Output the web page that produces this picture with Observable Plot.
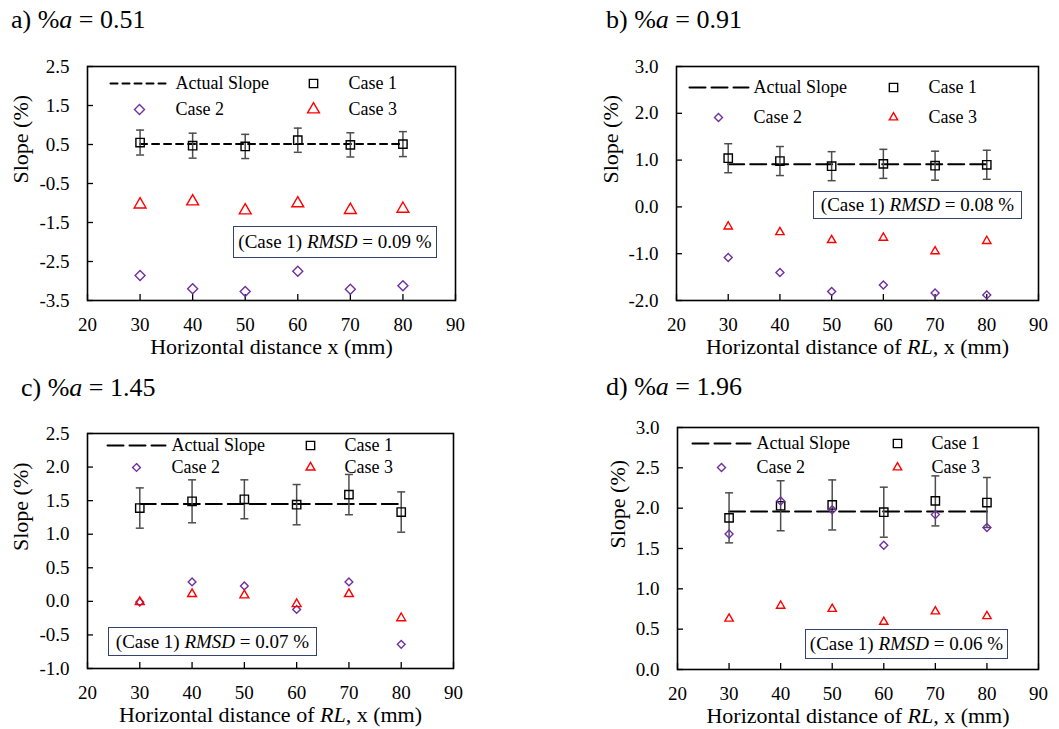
<!DOCTYPE html>
<html><head><meta charset="utf-8">
<script src="https://cdn.jsdelivr.net/npm/d3@7"></script>
<script src="https://cdn.jsdelivr.net/npm/@observablehq/plot@0.6"></script>
<style>
body{margin:0;background:#fff;}
#root{position:relative;width:1059px;height:729px;overflow:hidden;font-family:"Liberation Serif","Times New Roman",serif;background:#fff;}
.title{position:absolute;font-size:26px;line-height:26px;white-space:nowrap;color:#000;}
.panel{position:absolute;}
.rmsd{position:absolute;box-sizing:border-box;border:1.5px solid #34426f;background:#fff;font-size:19px;display:flex;align-items:center;justify-content:center;white-space:pre;color:#000;}
</style></head><body><div id="root"></div>
<script>
// ---------- data ----------
const xValues = [30, 40, 50, 60, 70, 80];
const xTicks = [20, 30, 40, 50, 60, 70, 80, 90];
const panelLetters = ["a", "b", "c", "d"];
const actualSlopes = [0.51, 0.91, 1.45, 1.96];
const rmsdValues = ["0.09", "0.08", "0.07", "0.06"];
const xLabels = ["Horizontal distance x (mm)", "Horizontal distance of RL, x (mm)", "Horizontal distance of RL, x (mm)", "Horizontal distance of RL, x (mm)"];
const yLabel = "Slope (%)";
const legendLabels = ["Actual Slope", "Case 1", "Case 2", "Case 3"];

const yTicksA = [-3.5, -2.5, -1.5, -0.5, 0.5, 1.5, 2.5];
const yTicksB = [-2, -1, 0, 1, 2, 3];
const yTicksC = [-1, -0.5, 0, 0.5, 1, 1.5, 2, 2.5];
const yTicksD = [0, 0.5, 1, 1.5, 2, 2.5, 3];

const case1A = [0.55, 0.47, 0.45, 0.61, 0.49, 0.51];
const errA   = [0.32, 0.32, 0.31, 0.31, 0.31, 0.32];
const case2A = [-2.86, -3.20, -3.27, -2.75, -3.21, -3.12];
const case3A = [-1.04, -0.96, -1.19, -1.01, -1.18, -1.15];

const case1B = [1.04, 0.98, 0.87, 0.92, 0.88, 0.90];
const errB   = [0.31, 0.31, 0.31, 0.31, 0.31, 0.31];
const case2B = [-1.08, -1.40, -1.81, -1.67, -1.84, -1.88];
const case3B = [-0.42, -0.54, -0.71, -0.66, -0.95, -0.73];

const case1C = [1.39, 1.49, 1.52, 1.44, 1.59, 1.33];
const errC   = [0.30, 0.32, 0.29, 0.30, 0.30, 0.30];
const case2C = [-0.01, 0.29, 0.23, -0.12, 0.29, -0.64];
const case3C = [-0.01, 0.11, 0.09, -0.04, 0.11, -0.25];

const case1D = [1.88, 2.03, 2.04, 1.95, 2.09, 2.07];
const errD   = [0.31, 0.31, 0.31, 0.31, 0.31, 0.31];
const case2D = [1.68, 2.09, 1.98, 1.54, 1.92, 1.76];
const case3D = [0.63, 0.79, 0.75, 0.59, 0.72, 0.66];

const panelData = [
  {yTicks: yTicksA, case1: case1A, err: errA, case2: case2A, case3: case3A},
  {yTicks: yTicksB, case1: case1B, err: errB, case2: case2B, case3: case3B},
  {yTicks: yTicksC, case1: case1C, err: errC, case2: case2C, case3: case3C},
  {yTicks: yTicksD, case1: case1D, err: errD, case2: case2D, case3: case3D}
];

// ---------- layout (pixels) ----------
const layouts = [
  {left: 0, top: 40, width: 530, height: 325, ml: 87, mr: 75, mt: 26, mb: 65, ylabDx: -67,
   title: {left: 11, top: 7}, box: {left: 233, top: 226, width: 204, height: 32},
   dash: "7,5", triR: 4.4, diaR: 4.5,
   leg: {lineX: 23, lineLen: 57, labX: 88, row1: 17, row2: 43, symL: 52, symR: 226, labR: 261}},
  {left: 530, top: 40, width: 529, height: 325, ml: 146, mr: 21, mt: 26, mb: 65, ylabDx: -66,
   title: {left: 606, top: 7}, box: {left: 813, top: 191, width: 209, height: 28},
   dash: "16,6", triR: 3.1, diaR: 3.6,
   leg: {lineX: 13, lineLen: 59, labX: 77, row1: 21, row2: 51, symL: 42, symR: 217, labR: 252}},
  {left: 0, top: 400, width: 530, height: 329, ml: 87, mr: 77, mt: 33, mb: 61, ylabDx: -67,
   title: {left: 21, top: 375}, box: {left: 108, top: 627, width: 209, height: 29},
   dash: "16,6", triR: 3.3, diaR: 3.5,
   leg: {lineX: 20, lineLen: 58, labX: 84, row1: 12, row2: 34, symL: 49, symR: 223, labR: 257}},
  {left: 530, top: 400, width: 529, height: 329, ml: 147, mr: 21, mt: 27, mb: 60, ylabDx: -60,
   title: {left: 606, top: 374}, box: {left: 805, top: 629, width: 203, height: 30},
   dash: "16,6", triR: 3.1, diaR: 3.6,
   leg: {lineX: 15, lineLen: 58, labX: 79, row1: 16, row2: 40, symL: 44, symR: 220, labR: 254}}
];

const capSymbol = {draw(ctx) { ctx.moveTo(-4, 0); ctx.lineTo(4, 0); }};
const segShape = {draw(ctx, l) { ctx.moveTo(0, 0); ctx.lineTo(0, -l); }};
const purple = "#7030a0";
const red = "#ff0000";
const errColor = "#4d4d4d";

const root = document.getElementById("root");

panelData.forEach((d, k) => {
  const L = layouts[k];
  const fw = L.width - L.ml - L.mr, fh = L.height - L.mt - L.mb;
  const c1 = xValues.map((x, i) => ({x, y: d.case1[i], e: d.err[i]}));
  const c2 = xValues.map((x, i) => ({x, y: d.case2[i]}));
  const c3 = xValues.map((x, i) => ({x, y: d.case3[i]}));
  const yDomain = [d3.min(d.yTicks), d3.max(d.yTicks)];
  const lg = L.leg;
  const leg = {frameAnchor: "top-left", lineAnchor: "middle"};

  const svg = Plot.plot({
    width: L.width, height: L.height,
    marginLeft: L.ml, marginRight: L.mr, marginTop: L.mt, marginBottom: L.mb,
    x: {domain: [d3.min(xTicks), d3.max(xTicks)]},
    y: {domain: yDomain},
    style: {fontFamily: "'Liberation Serif','Times New Roman',serif", fontSize: "19px", color: "black", background: "transparent", overflow: "visible"},
    marks: [
      Plot.tickY(d.yTicks, {y: v => v, insetRight: fw - 6, stroke: "black", strokeWidth: 1.3}),
      Plot.tickX(xTicks, {x: v => v, insetTop: fh - 6, stroke: "black", strokeWidth: 1.3}),
      Plot.axisX(xTicks, {tickSize: 0, tickPadding: 17, label: null, tickFormat: v => String(v)}),
      Plot.axisY(d.yTicks, {tickSize: 0, tickPadding: 18, label: null, tickFormat: v => v.toFixed(1)}),
      Plot.text([yLabel], {frameAnchor: "left", lineAnchor: "middle", rotate: -90, dx: L.ylabDx, fontSize: 22}),
      Plot.text([xLabels[k]], {frameAnchor: "bottom", lineAnchor: "middle", dy: 46, fontSize: 22}),
      // actual slope
      Plot.line(xValues, {x: v => v, y: () => actualSlopes[k], stroke: "black", strokeWidth: 2, strokeDasharray: L.dash}),
      // error bars
      Plot.ruleX(c1, {x: "x", y1: p => p.y - p.e, y2: p => p.y + p.e, stroke: errColor, strokeWidth: 1.5}),
      Plot.dot(c1, {x: "x", y: p => p.y + p.e, symbol: capSymbol, fill: "none", stroke: errColor, strokeWidth: 1.5}),
      Plot.dot(c1, {x: "x", y: p => p.y - p.e, symbol: capSymbol, fill: "none", stroke: errColor, strokeWidth: 1.5}),
      // points
      Plot.dot(c1, {x: "x", y: "y", symbol: "square", r: 4.7, fill: "none", stroke: "black", strokeWidth: 1.4}),
      Plot.dot(c2, {x: "x", y: "y", symbol: "diamond2", r: L.diaR, fill: "none", stroke: purple, strokeWidth: 1.4}),
      Plot.dot(c3, {x: "x", y: "y", symbol: "triangle", r: L.triR, fill: "none", stroke: red, strokeWidth: 1.4}),
      // legend
      Plot.vector([0], {frameAnchor: "top-left", dx: lg.lineX, dy: lg.row1, length: lg.lineLen, rotate: 90, anchor: "start", shape: segShape, stroke: "black", strokeWidth: 2, strokeDasharray: L.dash}),
      Plot.text([legendLabels[0]], {...leg, dx: lg.labX, dy: lg.row1, textAnchor: "start", fontSize: 18}),
      Plot.dot([0], {frameAnchor: "top-left", dx: lg.symR, dy: lg.row1, symbol: "square", r: 4.7, fill: "none", stroke: "black", strokeWidth: 1.4}),
      Plot.text([legendLabels[1]], {...leg, dx: lg.labR, dy: lg.row1, textAnchor: "start", fontSize: 18}),
      Plot.dot([0], {frameAnchor: "top-left", dx: lg.symL, dy: lg.row2, symbol: "diamond2", r: L.diaR, fill: "none", stroke: purple, strokeWidth: 1.4}),
      Plot.text([legendLabels[2]], {...leg, dx: lg.labX, dy: lg.row2, textAnchor: "start", fontSize: 18}),
      Plot.dot([0], {frameAnchor: "top-left", dx: lg.symR, dy: lg.row2, symbol: "triangle", r: L.triR, fill: "none", stroke: red, strokeWidth: 1.4}),
      Plot.text([legendLabels[3]], {...leg, dx: lg.labR, dy: lg.row2, textAnchor: "start", fontSize: 18}),
      Plot.frame({stroke: "black", strokeWidth: 1.6})
    ]
  });

  // italic "RL," in the x label
  svg.querySelectorAll("text").forEach(t => {
    if (t.textContent === xLabels[k] && xLabels[k].includes("RL,")) {
      const [pre, post] = xLabels[k].split("RL,");
      t.textContent = "";
      const ns = "http://www.w3.org/2000/svg";
      const s1 = document.createElementNS(ns, "tspan"); s1.textContent = pre;
      const s2 = document.createElementNS(ns, "tspan"); s2.textContent = "RL,"; s2.setAttribute("font-style", "italic");
      const s3 = document.createElementNS(ns, "tspan"); s3.textContent = post;
      t.append(s1, s2, s3);
    }
  });

  const wrap = document.createElement("div");
  wrap.className = "panel";
  wrap.style.left = L.left + "px";
  wrap.style.top = L.top + "px";
  wrap.appendChild(svg);
  root.appendChild(wrap);

  const title = document.createElement("div");
  title.className = "title";
  title.style.left = L.title.left + "px";
  title.style.top = L.title.top + "px";
  title.innerHTML = panelLetters[k] + ") %<i>a</i> = " + actualSlopes[k].toFixed(2);
  root.appendChild(title);

  const box = document.createElement("div");
  box.className = "rmsd";
  box.style.left = L.box.left + "px";
  box.style.top = L.box.top + "px";
  box.style.width = L.box.width + "px";
  box.style.height = L.box.height + "px";
  box.innerHTML = "<span>(Case 1) <i>RMSD</i> = " + rmsdValues[k] + " %</span>";
  root.appendChild(box);
});
</script></body></html>
